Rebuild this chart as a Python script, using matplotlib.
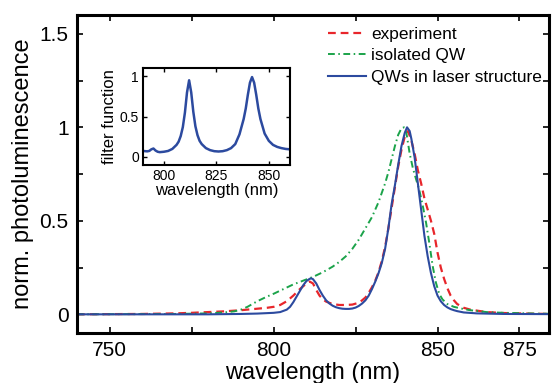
import numpy as np
import matplotlib
matplotlib.use("Agg")
import matplotlib.pyplot as plt

plt.rcParams['font.family'] = ['Liberation Sans', 'DejaVu Sans']

# experiment (red dashed)
wl_exp = [740, 760, 770, 775, 780, 785, 790, 795, 798, 800, 802, 804, 806, 808, 810, 811,
          812, 813, 814, 815, 816, 818, 820, 822, 824, 826, 827, 828, 829, 830, 831, 832,
          833, 834, 835, 836, 837, 838, 839, 840, 841, 842, 843, 844, 845, 846, 847, 848,
          849, 850, 851, 852, 853, 854, 855, 856, 858, 860, 865, 870, 880, 885]
pl_exp = [0.0, 0.002, 0.005, 0.008, 0.012, 0.016, 0.022, 0.03, 0.035, 0.04, 0.05, 0.07,
          0.1, 0.135, 0.165, 0.175, 0.165, 0.13, 0.1, 0.08, 0.068, 0.055, 0.05, 0.05,
          0.052, 0.062, 0.075, 0.09, 0.115, 0.145, 0.18, 0.225, 0.285, 0.36, 0.46, 0.57,
          0.68, 0.79, 0.88, 0.95, 0.98, 0.93, 0.86, 0.77, 0.7, 0.62, 0.56, 0.5, 0.43,
          0.33, 0.25, 0.19, 0.14, 0.1, 0.075, 0.055, 0.035, 0.025, 0.012, 0.007, 0.003,
          0.002]

# isolated QW (green dash-dot)
wl_iso = [740, 770, 780, 785, 788, 790, 792, 795, 798, 800, 803, 806, 809, 812, 815, 818,
          820, 822, 824, 826, 828, 830, 832, 834, 835, 836, 837, 838, 839, 839.8, 840.5,
          841.5, 842.5, 843.5, 844.5, 845.5, 846.5, 847.5, 848.5, 849.5, 850.5, 851.5,
          853, 855, 858, 860, 865, 870, 880, 885]
pl_iso = [0.0, 0.002, 0.005, 0.01, 0.016, 0.025, 0.04, 0.07, 0.095, 0.11, 0.135, 0.16,
          0.18, 0.2, 0.225, 0.255, 0.28, 0.31, 0.35, 0.4, 0.46, 0.52, 0.6, 0.7, 0.76,
          0.83, 0.9, 0.96, 0.995, 1.0, 0.97, 0.86, 0.78, 0.72, 0.66, 0.58, 0.49, 0.38,
          0.26, 0.17, 0.11, 0.08, 0.055, 0.04, 0.028, 0.022, 0.012, 0.008, 0.004, 0.003]

# QWs in laser structure (blue solid)
wl_las = [740, 780, 790, 795, 800, 802, 804, 805, 806, 807, 808, 809, 810, 811, 811.5,
          812, 813, 814, 815, 816, 817, 818, 819, 820, 821, 822, 823, 824, 825, 826, 827,
          828, 829, 830, 831, 832, 833, 834, 835, 836, 837, 838, 839, 840, 840.7, 841.5,
          842, 843, 844, 845, 846, 847, 848, 849, 850, 851, 852, 853, 854, 855, 856, 858,
          862, 870, 885]
pl_las = [0.0, 0.0, 0.002, 0.004, 0.008, 0.012, 0.025, 0.04, 0.065, 0.095, 0.125, 0.155,
          0.178, 0.19, 0.192, 0.188, 0.165, 0.13, 0.1, 0.075, 0.058, 0.046, 0.038, 0.033,
          0.03, 0.029, 0.029, 0.031, 0.036, 0.045, 0.058, 0.075, 0.1, 0.135, 0.175, 0.22,
          0.275, 0.35, 0.46, 0.59, 0.69, 0.8, 0.9, 0.97, 1.0, 0.98, 0.94, 0.84, 0.7, 0.56,
          0.42, 0.31, 0.22, 0.15, 0.1, 0.07, 0.05, 0.037, 0.028, 0.022, 0.017, 0.01,
          0.005, 0.002, 0.001]

# inset: filter function
wl_filt = [790, 792, 793, 794, 795, 796, 797, 798, 800, 802, 804, 806, 807, 808, 809, 810,
           811, 812, 813, 814, 815, 816, 817, 818, 820, 822, 824, 826, 828, 830, 832, 834,
           836, 838, 839, 840, 841, 842, 843, 844, 845, 846, 848, 850, 852, 854, 856, 858,
           860]
filt = [0.075, 0.07, 0.075, 0.095, 0.105, 0.08, 0.065, 0.06, 0.065, 0.075, 0.1, 0.15,
        0.19, 0.26, 0.37, 0.55, 0.8, 0.95, 0.8, 0.56, 0.38, 0.27, 0.2, 0.16, 0.11, 0.085,
        0.072, 0.068, 0.072, 0.085, 0.11, 0.16, 0.28, 0.47, 0.6, 0.77, 0.92, 0.99, 0.92,
        0.77, 0.6, 0.47, 0.29, 0.2, 0.15, 0.125, 0.11, 0.1, 0.095]

red = '#e8262b'
green = '#1ba34a'
blue = '#2c4a9f'

fig = plt.figure(figsize=(5.52, 3.83), dpi=100)
ax = fig.add_axes([0.1395, 0.1305, 0.855, 0.830])

ax.plot(wl_exp, pl_exp, color=red, lw=1.6, ls=(0, (3.5, 2.2)), label='experiment')
ax.plot(wl_iso, pl_iso, color=green, lw=1.4, ls=(0, (3.5, 1.8, 0.8, 1.8)), label='isolated QW')
ax.plot(wl_las, pl_las, color=blue, lw=1.5, label='QWs in laser structure')

ax.set_xlim(740, 884)
ax.set_ylim(-0.1, 1.6)
ax.set_xticks([750, 775, 800, 825, 850, 875])
ax.set_xticklabels(['750', '', '800', '', '850', '875'])
ax.set_yticks([0, 0.25, 0.5, 0.75, 1, 1.25, 1.5])
ax.set_yticklabels(['0', '', '0.5', '', '1', '', '1.5'])
ax.tick_params(direction='in', top=True, right=True, length=4, width=1.2,
               labelsize=15, pad=6)
for s in ax.spines.values():
    s.set_linewidth(2.2)
ax.set_xlabel('wavelength (nm)', fontsize=17, labelpad=1)
ax.set_ylabel('norm. photoluminescence', fontsize=17, labelpad=4)

leg = ax.legend(loc='upper right', bbox_to_anchor=(1.0, 0.984), frameon=False,
                fontsize=12.4, handlelength=2.2, handletextpad=0.3,
                labelspacing=0.36, borderaxespad=0.0)

ins = fig.add_axes([0.259, 0.569, 0.266, 0.253])
ins.plot(wl_filt, filt, color=blue, lw=1.8)
ins.set_xlim(790, 860)
ins.set_ylim(-0.1, 1.1)
ins.set_xticks([800, 825, 850])
ins.set_yticks([0, 0.5, 1])
ins.set_yticklabels(['0', '0.5', '1'])
ins.tick_params(direction='in', top=True, right=True, length=3, width=1,
                labelsize=10, pad=3)
for s in ins.spines.values():
    s.set_linewidth(1.5)
ins.set_xlabel('wavelength (nm)', fontsize=12, labelpad=0)
ins.set_ylabel('filter function', fontsize=12, labelpad=2)

fig.savefig('out.png', dpi=100)
